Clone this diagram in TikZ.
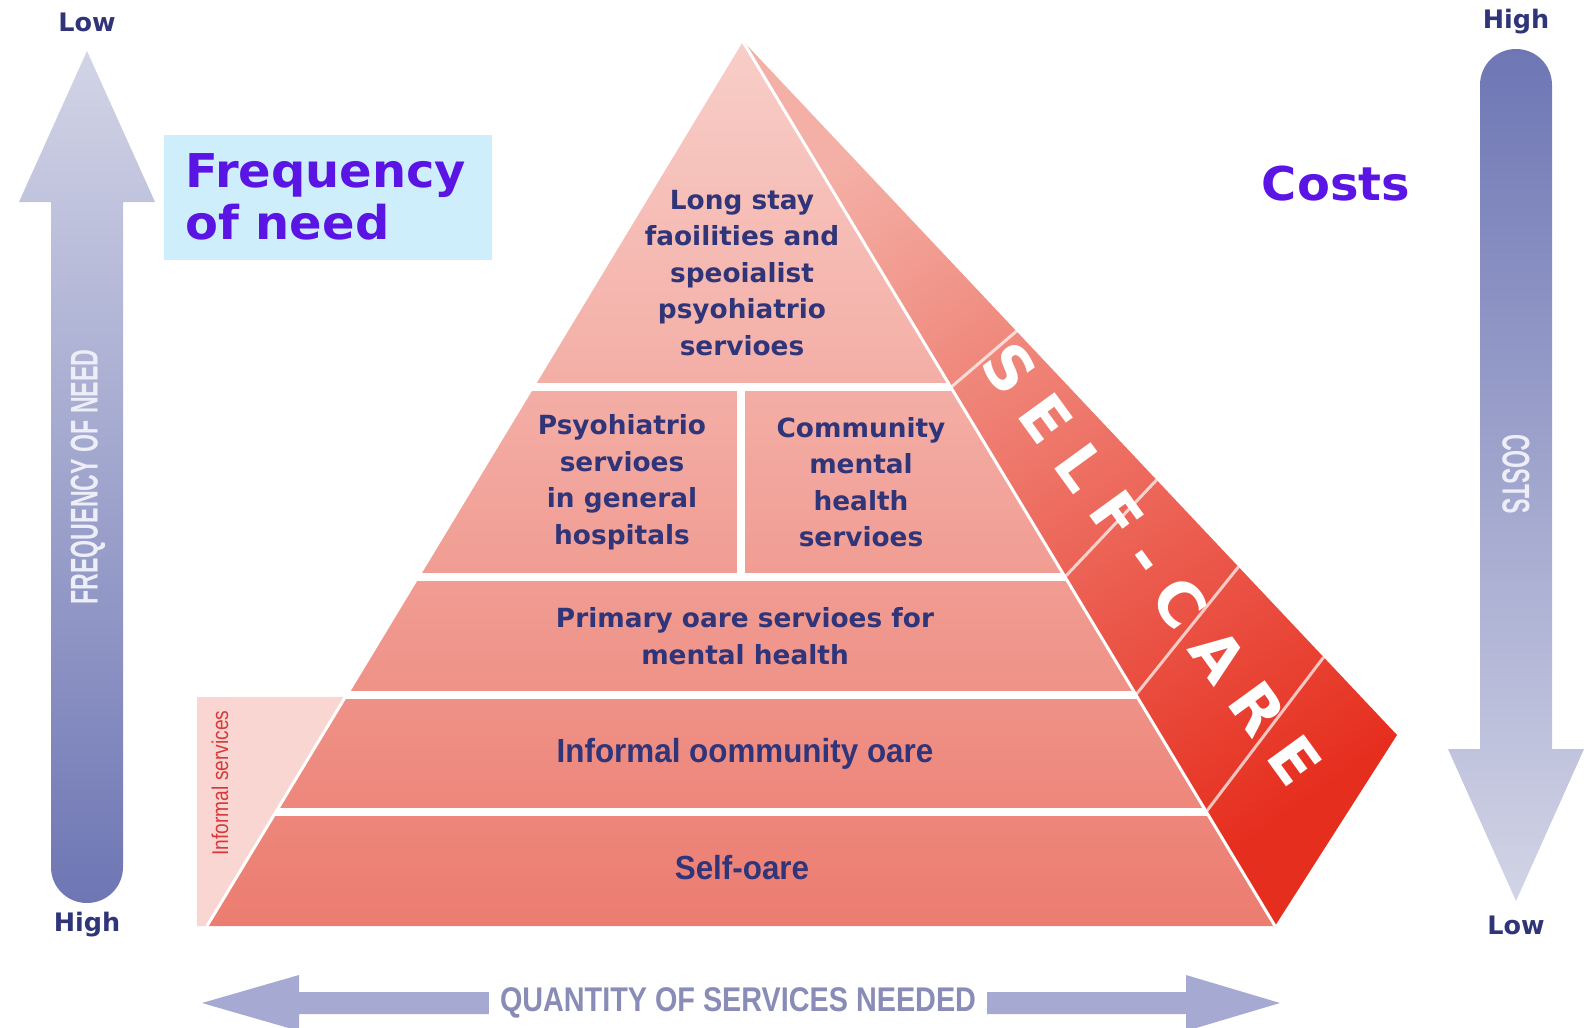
\documentclass[tikz,border=0pt]{standalone}
\usepackage{fontspec}
\setmainfont{DejaVu Sans}
\newfontfamily\widefont[FakeStretch=1.03]{DejaVu Sans}
\newfontfamily\narrowfont[FakeStretch=0.6]{Liberation Sans}
\newfontfamily\semifont[FakeStretch=0.84]{Liberation Sans}
\newfontfamily\basefont[FakeStretch=0.94]{Liberation Sans}
\usetikzlibrary{calc,positioning}

\definecolor{navy}{RGB}{48,52,120}
\definecolor{needblue}{RGB}{90,20,228}
\definecolor{boxblue}{RGB}{206,238,252}
\definecolor{pyrtop}{RGB}{248,206,200}
\definecolor{pyrbot}{RGB}{236,124,112}
\definecolor{sidetop}{RGB}{244,176,166}
\definecolor{sidebot}{RGB}{230,46,30}
\definecolor{paleband}{RGB}{249,214,210}
\definecolor{infored}{RGB}{214,58,58}
\definecolor{arrowlight}{RGB}{210,212,230}
\definecolor{arrowmid}{RGB}{146,152,200}
\definecolor{arrowdark}{RGB}{110,118,180}
\definecolor{axiswhite}{RGB}{238,238,248}
\definecolor{qtyarrow}{RGB}{166,170,210}
\definecolor{qtytext}{RGB}{136,140,182}

\newcommand\lgap{\hspace{10.9pt}}

\tikzset{
  tier/.style={font=\bfseries\fontsize{15}{20.8}\selectfont, text=navy, align=center, inner sep=0pt},
  basetier/.style={font=\basefont\bfseries\fontsize{19}{22}\selectfont, text=navy, inner sep=0pt},
  endlabel/.style={font=\bfseries\fontsize{14.5}{16}\selectfont, text=navy, inner sep=0pt},
  axislabel/.style={font=\narrowfont\bfseries\fontsize{22}{22}\selectfont, text=axiswhite, inner sep=0pt},
  heading/.style={font=\widefont\bfseries\fontsize{26.5}{30}\selectfont, text=needblue, align=left, inner sep=0pt},
  careword/.style={font=\bfseries\fontsize{35}{35}\selectfont, text=white, rotate=-54, inner sep=0pt},
  tierline/.style={white, line width=4.5pt},
  edgeline/.style={white, line width=1.7pt},
  crossline/.style={white, opacity=0.7, line width=1.7pt},
}

\begin{document}
\begin{tikzpicture}[x=0.02cm, y=-0.02cm]
\useasboundingbox (0,0) rectangle (1587,1028);

% pyramid corners
\coordinate (apex) at (742,40);
\coordinate (bl) at (207,926);
\coordinate (br) at (1275,926);
\coordinate (corner) at (1397,735);

% pale strip for informal services
\fill[paleband] (197,697) -- ($(apex)!0.7415!(bl)$) -- (bl) -- (197,926) -- cycle;
\node[font=\semifont\fontsize{13}{13}\selectfont, text=infored, rotate=90, inner sep=0pt] (informaltag) at (220,783) {Informal services};

% side face and front face
\shade[top color=sidetop, bottom color=sidebot, shading angle=35] (apex) -- (corner) -- (br) -- cycle;
\shade[top color=pyrtop, bottom color=pyrbot] (apex) -- (br) -- (bl) -- cycle;

\begin{scope}
  \clip (apex) -- (br) -- (bl) -- cycle;
  \foreach \y in {387,577,695,812}
    \draw[tierline] (150,\y) -- (1350,\y);
  \draw[tierline] (741,387) -- (741,577);
\end{scope}
\draw[edgeline] (bl) -- (apex) -- (br);

% bands across the self-care face
\foreach \a/\b in {0.392/0.419, 0.606/0.633, 0.739/0.758, 0.871/0.888}
  \draw[crossline] ($(apex)!\a!(br)$) -- ($(apex)!\b!(corner)$);

\node[careword] (selfcareword) at (1152,564) {S\lgap E\lgap L\lgap F\lgap -\lgap C\lgap A\lgap R\lgap E};

% tier texts
\node[tier] (longstay) at (742,273) {Long stay\\faoilities and\\speoialist\\psyohiatrio\\servioes};
\node[tier] (hospital) at (622,482) {Psyohiatrio\\servioes\\in general\\hospitals};
\node[tier] (community) at (861,482) {Community\\mental\\health\\servioes};
\node[tier] (primary) at (745,636) {Primary oare servioes for\\mental health};
\node[basetier] (informal) at (745,754) {Informal oommunity oare};
\node[basetier] (selfcare) at (742,868) {Self-oare};

% frequency arrow on the left
\shade[top color=arrowlight, middle color=arrowmid, bottom color=arrowdark]
  (87,51) -- (155,202) -- (123,202) -- (123,867)
  .. controls (123,887) and (107,903) .. (87,903)
  .. controls (67,903) and (51,887) .. (51,867)
  -- (51,202) -- (19,202) -- cycle;
\node[axislabel, rotate=90] (freqaxis) at (88,477) {FREQUENCY OF NEED};
\node[endlabel] (freqlow) at (87,22) {Low};
\node[endlabel] (freqhigh) at (87,925) {High};

% cost arrow on the right
\shade[top color=arrowdark, middle color=arrowmid, bottom color=arrowlight]
  (1516,901) -- (1584,749) -- (1552,749) -- (1552,85)
  .. controls (1552,65) and (1536,49) .. (1516,49)
  .. controls (1496,49) and (1480,65) .. (1480,85)
  -- (1480,749) -- (1448,749) -- cycle;
\node[axislabel, rotate=-90] (costaxis) at (1516,474) {COSTS};
\node[endlabel] (costhigh) at (1516,22) {High};
\node[endlabel] (costlow) at (1516,925) {Low};

% headings
\fill[boxblue] (164,135) rectangle (492,260);
\node[heading, anchor=west] (freqhead) at (185,197) {Frequency\\of need};
\node[heading] (costhead) at (1336,184) {Costs};

% quantity arrow along the bottom
\fill[qtyarrow] (202,1003) -- (299,975) -- (299,992) -- (1186,992) -- (1186,975)
  -- (1280,1003) -- (1186,1031) -- (1186,1014) -- (299,1014) -- (299,1031) -- cycle;
\node[fill=white, inner xsep=6pt, inner ysep=5pt, text=qtytext,
  font=\semifont\bfseries\fontsize{19.5}{20}\selectfont] (quantity) at (738,1003) {QUANTITY OF SERVICES NEEDED};
\end{tikzpicture}
\end{document}
